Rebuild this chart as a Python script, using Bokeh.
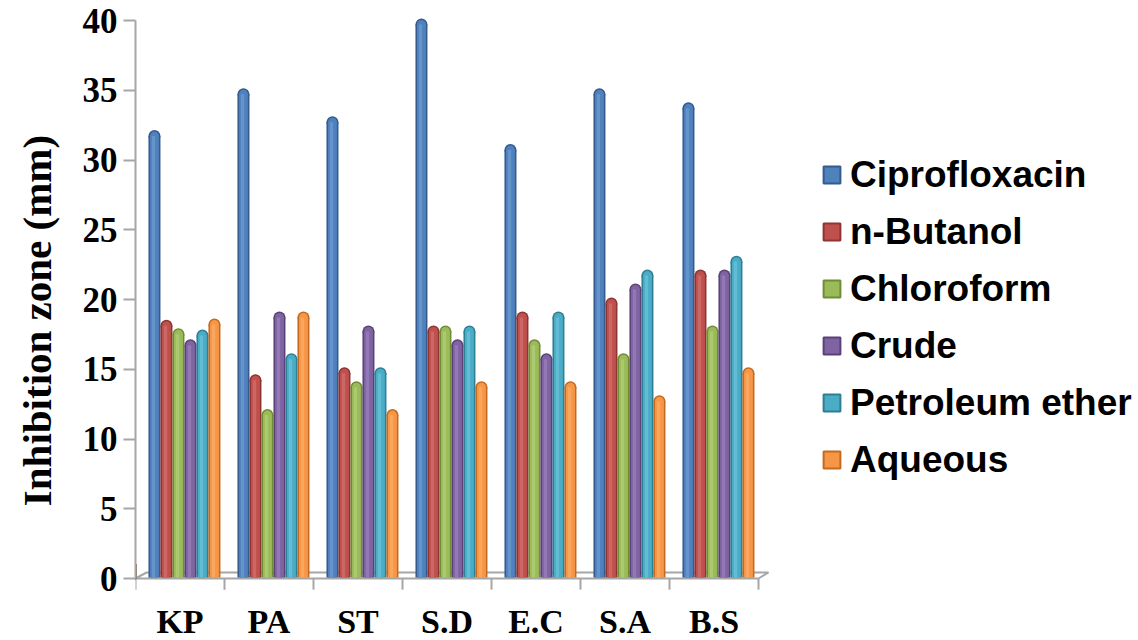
import numpy as np
from bokeh.plotting import figure
from bokeh.models import Range1d, FixedTicker, Legend, LegendItem
from bokeh.core.properties import value
from bokeh.embed import file_html
from bokeh.resources import INLINE

# ---- data ----
categories = ["KP", "PA", "ST", "S.D", "E.C", "S.A", "B.S"]
series_names = ["Ciprofloxacin", "n-Butanol", "Chloroform", "Crude", "Petroleum ether", "Aqueous"]
ciprofloxacin = [32, 35, 33, 40, 31, 35, 34]
n_butanol = [18.4, 14.5, 15, 18, 19, 20, 22]
chloroform = [17.8, 12, 14, 18, 17, 16, 18]
crude = [17, 19, 18, 17, 16, 21, 22]
petroleum_ether = [17.7, 16, 15, 18, 19, 22, 23]
aqueous = [18.5, 19, 12, 14, 14, 13, 15]
y_ticks = [0, 5, 10, 15, 20, 25, 30, 35, 40]
y_label = "Inhibition zone (mm)"

series_values = [ciprofloxacin, n_butanol, chloroform, crude, petroleum_ether, aqueous]
base_colors = ["#4F81BD", "#C0504D", "#9BBB59", "#8064A2", "#4BACC6", "#F79646"]
dark_colors = ["#345B8C", "#8E3532", "#6F8C36", "#5A4279", "#2D7F96", "#C26A20"]
light_colors = ["#6F9BD3", "#D0706D", "#B2CF78", "#9A80BC", "#6CC4DA", "#F9AE6A"]

SERIF = "Liberation Serif"
SANS = "Liberation Sans"

W, H = 1138, 640
px_x = 89.0   # px per category
px_y = 13.95  # px per mm
left_px, zero_px = 135, 578

p = figure(width=W, height=H, output_backend="svg", toolbar_location=None,
           x_range=Range1d(0, (W - left_px) / px_x),
           y_range=Range1d(-(H - zero_px) / px_y, zero_px / px_y),
           x_axis_location=None, min_border_left=left_px, min_border_top=0,
           min_border_bottom=0, min_border_right=0)
p.outline_line_color = None
p.xgrid.visible = False
p.ygrid.visible = False
p.background_fill_color = "white"
p.border_fill_color = "white"

# y axis
ya = p.yaxis[0]
ya.ticker = FixedTicker(ticks=y_ticks)
ya.bounds = (0, 40)
ya.axis_line_color = "#a6a6a6"
ya.axis_line_width = 2
ya.major_tick_line_color = "#a6a6a6"
ya.major_tick_line_width = 2
ya.major_tick_out = 12
ya.major_tick_in = 0
ya.minor_tick_line_color = None
ya.major_label_standoff = 6
ya.major_label_text_font = SERIF
ya.major_label_text_font_style = "bold"
ya.major_label_text_font_size = "35px"
ya.major_label_text_color = "black"
ya.axis_label = y_label
ya.axis_label_text_font = SERIF
ya.axis_label_text_font_style = "bold"
ya.axis_label_text_font_size = "41px"
ya.axis_label_text_color = "black"
ya.axis_label_standoff = 20

n_cat = len(categories)
idx = np.arange(n_cat)
bar_w = 12 / px_x
first_off = 0.213

# floor (3D base)
dxl = 11 / px_x
dxr = 10 / px_x
dy = 6 / px_y
p.line([dxl, n_cat + dxr, n_cat, 0, dxl], [dy, dy, 0, 0, dy], line_color="#a6a6a6", line_width=2)
# category boundary ticks
bx = list(range(n_cat + 1))
p.segment(x0=bx, y0=[0] * len(bx), x1=bx, y1=[-0.8] * len(bx), line_color="#a6a6a6", line_width=2)

r = 4 / px_y
for i, (name, vals) in enumerate(zip(series_names, series_values)):
    xs = idx + first_off + i * bar_w
    vals = np.array(vals, dtype=float)
    tops = vals - r
    p.vbar(x=xs, width=bar_w, bottom=0.07, top=tops, fill_color=dark_colors[i], line_color=None)
    p.ellipse(x=xs, y=tops, width=bar_w, height=12, height_units="screen",
              fill_color=dark_colors[i], line_color=None)
    p.vbar(x=xs, width=bar_w * 0.74, bottom=0.07, top=tops, fill_color=base_colors[i],
           line_color=None)
    p.ellipse(x=xs, y=tops, width=bar_w * 0.74, height=9, height_units="screen",
              fill_color=base_colors[i], line_color=None)
    p.vbar(x=xs - bar_w * 0.08, width=bar_w * 0.28, bottom=0.07, top=tops,
           fill_color=light_colors[i], line_color=None, fill_alpha=0.7)

# legend swatches (base colour with darker bevel edge)
legend_items = []
for i, name in enumerate(series_names):
    lr = p.vbar(x=[-10], width=0.1, top=[1], fill_color=base_colors[i],
                line_color=dark_colors[i], line_width=2)
    legend_items.append(LegendItem(label=name, renderers=[lr]))

# category labels
p.text(x=idx + 0.5, y=[-(621 - zero_px) / px_y] * n_cat, text=categories, text_font=value(SERIF),
       text_font_style="bold", text_font_size="34px", text_align="center",
       text_baseline="alphabetic", text_color="black")

legend = Legend(items=legend_items, location=(686, 152), orientation="vertical",
                glyph_width=21, glyph_height=21, label_standoff=8,
                label_height=57, spacing=0, padding=0, margin=0,
                border_line_color=None, background_fill_alpha=0,
                label_text_font=SANS, label_text_font_style="bold",
                label_text_font_size="37px", label_text_color="black",
                label_text_baseline="middle")
p.add_layout(legend, "center")

open("out.html", "w").write(file_html(p, INLINE))
